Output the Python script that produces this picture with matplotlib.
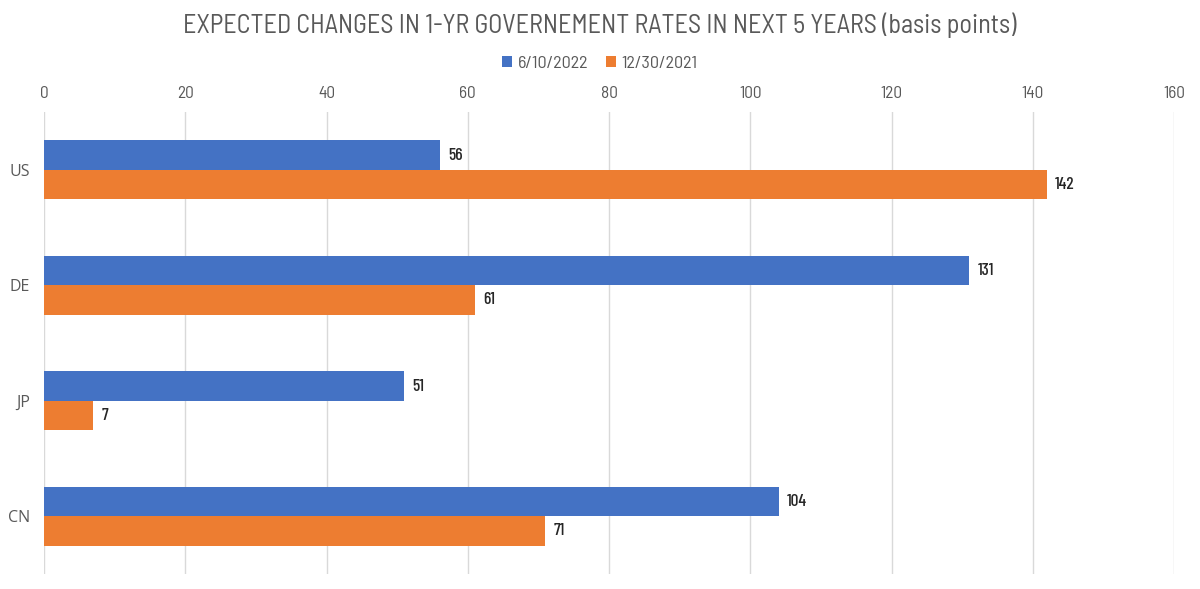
import matplotlib
matplotlib.use("Agg")
import matplotlib.pyplot as plt
import numpy as np

categories = ["US", "DE", "JP", "CN"]
series_names = ["6/10/2022", "12/30/2021"]
values_2022 = [56, 131, 51, 104]
values_2021 = [142, 61, 7, 71]
x_ticks = [0, 20, 40, 60, 80, 100, 120, 140, 160]

BLUE = "#4472C4"
ORANGE = "#ED7D31"
TEXT = "#595959"
NARROW = ["Barlow Semi Condensed", "Roboto Condensed", "DejaVu Sans"]
NARROW_B = ["Barlow Condensed", "Roboto Condensed", "DejaVu Sans"]

fig = plt.figure(figsize=(12, 5.89), dpi=100)
ax = fig.add_axes([44/1200, 1-574/589, (1174-44)/1200, (574-112)/589])

y = np.arange(len(categories))
h = 0.255
b1 = ax.barh(y - h/2, values_2022, height=h, color=BLUE, label=series_names[0])
b2 = ax.barh(y + h/2, values_2021, height=h, color=ORANGE, label=series_names[1])

for bars, vals in ((b1, values_2022), (b2, values_2021)):
    for bar, v in zip(bars, vals):
        ax.annotate(str(v), (bar.get_width(), bar.get_y() + bar.get_height()/2),
                    xytext=(6, 0), textcoords="offset points", va="center", ha="left",
                    fontsize=12.5, fontweight="medium", color="#262626", family=NARROW_B)

ax.set_xlim(0, 160)
ax.set_ylim(len(categories) - 0.5, -0.5)
ax.set_xticks(x_ticks)
ax.set_xticklabels([str(t) for t in x_ticks], family=NARROW, fontsize=12.5, color=TEXT)
ax.set_yticks(y)
ax.set_yticklabels(categories, fontsize=11.5, color=TEXT, family=["Open Sans", "DejaVu Sans"])
ax.xaxis.tick_top()
ax.tick_params(axis="both", length=0)
ax.tick_params(axis="x", pad=8)
ax.tick_params(axis="y", pad=10)
ax.grid(axis="x", color="#D9D9D9", linewidth=1)
ax.set_axisbelow(True)
for s in ax.spines.values():
    s.set_visible(False)

fig.text(0.5, 1-25/589, "EXPECTED CHANGES IN 1-YR GOVERNEMENT RATES IN NEXT 5 YEARS (basis points)",
         ha="center", va="center", fontsize=18.8, color=TEXT, family=NARROW)
fig.legend(handles=[b1, b2], labels=series_names, loc="center", bbox_to_anchor=(0.5, 1-63/589),
           ncol=2, frameon=False, handlelength=0.55, handleheight=0.55, handletextpad=0.3,
           columnspacing=1.0, prop={"family": NARROW, "size": 13}, labelcolor=TEXT)

fig.savefig("out.png", dpi=100)
